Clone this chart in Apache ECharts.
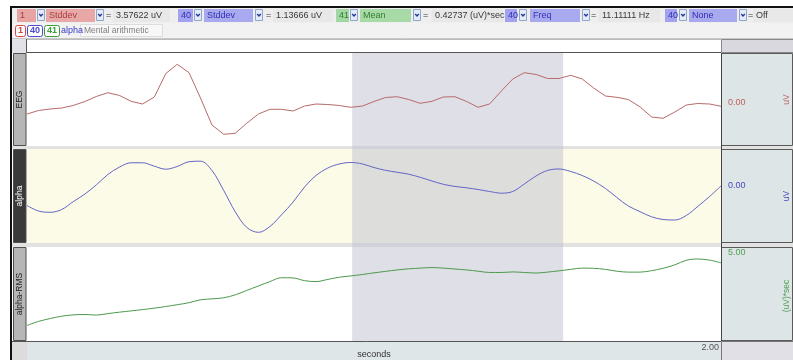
<!DOCTYPE html>
<html><head><meta charset="utf-8">
<script src="https://cdn.jsdelivr.net/npm/echarts@6/dist/echarts.min.js"></script>
<style>html,body{margin:0;padding:0;background:#fff;overflow:hidden}#c{width:793px;height:360px}</style>
</head><body><div id="c"></div>
<script>
// ---- data ----
const time = [0,0.033,0.067,0.1,0.133,0.167,0.2,0.233,0.267,0.3,0.333,0.367,0.4,0.433,0.467,0.5,0.533,0.567,0.6,0.633,0.667,0.7,0.733,0.767,0.8,0.833,0.867,0.9,0.933,0.967,1.0,1.033,1.067,1.1,1.133,1.167,1.2,1.233,1.267,1.3,1.333,1.367,1.4,1.433,1.467,1.5,1.533,1.567,1.6,1.633,1.667,1.7,1.733,1.767,1.8,1.833,1.867,1.9,1.933,1.967,2.0];
const eeg = [-3.12,-2.37,-2.04,-1.83,-1.29,-0.43,0.65,1.46,0.86,-0.39,-0.97,0.54,5.59,7.57,5.76,0.32,-5.48,-7.48,-7.27,-5.12,-3.12,-2.11,-2.11,-2.47,-1.40,-0.97,-1.08,-1.29,-1.68,-1.40,-0.43,0.43,0.60,0.00,-0.82,-0.39,0.54,0.60,-0.43,-1.68,-0.97,1.83,4.41,5.76,5.38,4.52,4.52,5.20,4.41,2.47,0.75,0.47,0.00,-1.61,-3.76,-4.04,-2.69,-1.18,-0.86,-0.97,-1.46];
const alpha = [-2.02,-3.19,-3.47,-2.87,-1.21,0.43,2.38,4.58,6.17,7.07,7.07,6.34,5.70,6.28,7.30,7.41,5.43,1.17,-3.34,-6.66,-7.73,-6.49,-4.04,-1.28,1.92,4.36,5.96,6.81,7.13,6.81,6.06,5.47,5.04,4.64,3.98,3.19,2.49,2.04,1.74,1.38,0.96,0.60,0.96,2.55,4.26,5.43,5.75,5.21,4.36,3.19,1.60,-0.32,-2.13,-3.34,-4.43,-5.00,-5.11,-4.15,-2.23,-0.11,2.13];
const alphaRms = [0.69,0.91,1.07,1.20,1.27,1.29,1.26,1.34,1.42,1.49,1.56,1.64,1.73,1.83,1.94,2.10,2.15,2.21,2.37,2.61,2.86,3.10,3.31,3.30,3.15,3.10,3.22,3.34,3.41,3.49,3.58,3.66,3.74,3.80,3.84,3.87,3.84,3.79,3.74,3.67,3.60,3.60,3.63,3.60,3.57,3.62,3.69,3.77,3.84,3.83,3.77,3.67,3.62,3.62,3.70,3.83,4.02,4.27,4.34,4.28,4.13];
const selection = [0.937, 1.545];
const channels = ['EEG', 'alpha', 'alpha-RMS'];
const units = ['uV', 'uV', '(uV)*sec'];
const scaleLabels = ['0.00', '0.00', '5.00'];
const yRanges = [[-10, 10], [-10, 10], [0, 5]];
const xRange = [0, 2];
const xEndLabel = '2.00';
const xName = 'seconds';

// ---- layout / style ----
const PX = 27, PW = 694;
const tops = [53, 149, 247], hts = [93, 94, 94];
const lineColors = ['#b86a6a', '#6464c8', '#4c9a4c'];
const labelColors = ['#c06060', '#4848c0', '#50a050'];
const panelBg = ['#ffffff', '#fbfbe7', '#ffffff'];
const stripBg = ['#b6b6b6', '#3a3a3a', '#b6b6b6'];
const stripFg = ['#222', '#fff', '#222'];
const FONT = '"Liberation Sans", Arial, sans-serif';

const G = [];
function rect(x, y, w, h, fill, stroke, z) {
  G.push({type: 'rect', z: z || 0, silent: true, shape: {x, y, width: w, height: h},
    style: {fill: fill || 'none', stroke: stroke || null, lineWidth: 1}});
}
function txt(x, y, s, color, size, opt) {
  opt = opt || {};
  G.push({type: 'text', z: opt.z || 3, silent: true, x, y, rotation: opt.rot || 0,
    style: {text: s, x: 0, y: 0, fill: color, font: (opt.bold ? 'bold ' : '') + size + 'px ' + FONT,
      align: opt.align || 'left', verticalAlign: 'middle', textAlign: opt.align || 'left', textVerticalAlign: 'middle'}});
}
function dd(x, y) {
  rect(x + 0.5, y + 0.5, 7, 11, '#e4eaf8', '#8fa6c8', 1);
  G.push({type: 'polyline', z: 2, silent: true, shape: {points: [[x + 2.2, y + 5], [x + 4, y + 7], [x + 5.8, y + 5]]},
    style: {stroke: '#23399a', lineWidth: 1.4, fill: null}});
}

// outer frame + toolbars
rect(12, 8, 781, 15, '#eeeeee');
rect(12, 23, 781, 15, '#f2f2f2');
G.push({type: 'line', z: 1, silent: true, shape: {x1: 12, y1: 38.5, x2: 793, y2: 38.5}, style: {stroke: '#c8c8c8'}});
rect(10, 6, 783, 2, '#111');
rect(10, 6, 2, 354, '#111');

// toolbar row 1 widgets: [x, w, fill, text, color]
const RY = 9;
const boxes1 = [
  [17, 19, '#e8a3a3', '1', '#a03c3c'], [46, 49, '#e8a8a8', 'Stddev', '#a84040'],
  [113, 57, '#e8e8e8', '3.57622 uV', '#3a3a3a'],
  [178, 15, '#a2a2f0', '40', '#3030b0'], [204, 49, '#a9a9f0', 'Stddev', '#3030b0'],
  [273, 60, '#e8e8e8', '1.13666 uV', '#3a3a3a'],
  [336, 13, '#a2d6a2', '41', '#2f7f2f'], [360, 51, '#a8daa8', 'Mean', '#2f7f2f'],
  [432, 71, '#e8e8e8', '0.42737 (uV)*sec', '#3a3a3a'],
  [505, 12, '#a2a2f0', '40', '#3030b0'], [530, 50, '#a9a9f0', 'Freq', '#3030b0'],
  [599, 61, '#e8e8e8', '11.11111 Hz', '#3a3a3a'],
  [665, 12, '#a2a2f0', '40', '#3030b0'], [689, 48, '#a9a9f0', 'None', '#3030b0'],
  [753, 40, '#e8e8e8', 'Off', '#3a3a3a']
];
boxes1.forEach(b => { rect(b[0], RY, b[1], 13, b[2], null, 1); txt(b[0] + 3, RY + 6.5, b[3], b[4], 9); });
[37, 96, 194, 255, 350, 413, 519, 582, 679, 739].forEach(x => dd(x, RY));
[106, 266, 423, 591, 748].forEach(x => txt(x, RY + 6.5, '=', '#333', 9));

// toolbar row 2
[[15, 10, '#d04848', '1'], [27, 15, '#4848d0', '40'], [44, 15, '#3c9c3c', '41']].forEach(b => {
  G.push({type: 'rect', z: 1, silent: true, shape: {x: b[0] + 0.5, y: 25.5, width: b[1], height: 11, r: 2},
    style: {fill: '#fff', stroke: b[2], lineWidth: 1}});
  txt(b[0] + 0.5 + b[1] / 2, 31, b[3], b[2], 9, {bold: true, align: 'center'});
});
txt(61, 31, 'alpha', '#3a3ac8', 9);
rect(80.5, 24.5, 82, 12, '#f7f7f7', '#dddddd', 1);
txt(84, 31, 'Mental arithmetic', '#808080', 8.5);

// header strip above panels
rect(12, 39, 15, 14, '#e2e2e8');
rect(27, 39, 694, 14, '#ffffff');
G.push({type: 'line', z: 2, silent: true, shape: {x1: 27, y1: 52.5, x2: 721, y2: 52.5}, style: {stroke: '#555'}});
G.push({type: 'line', z: 2, silent: true, shape: {x1: 27, y1: 39.5, x2: 721, y2: 39.5}, style: {stroke: '#bbb'}});
rect(721.5, 39.5, 72, 13, '#d8d8de', '#888', 1);
G.push({type: 'line', z: 2, silent: true, shape: {x1: 26.5, y1: 39, x2: 26.5, y2: 53}, style: {stroke: '#555'}});

// gaps between panels
rect(12, 146, 781, 3, '#e2e2e2');
rect(12, 243, 781, 4, '#e2e2e2');

// per-panel chrome
for (let i = 0; i < 3; i++) {
  const t = tops[i], h = hts[i];
  rect(13.5, t + 0.5, 12.5, h - 1, stripBg[i], '#505050', 1);
  txt(20, t + h / 2, channels[i], stripFg[i], 8.5, {rot: Math.PI / 2, align: 'center'});
  rect(721.5, t + 0.5, 71, h - 1, '#dde5e7', '#5a5a5a', 1);
  txt(728, i === 2 ? t + 6 : t + h / 2 + (i === 0 ? 3 : -10), scaleLabels[i], labelColors[i], 9);
  txt(787, t + h / 2 + (i === 2 ? 2 : 0), units[i], labelColors[i], 8.5, {rot: Math.PI / 2, align: 'center'});
}
G.push({type: 'line', z: 4, silent: true, shape: {x1: 721.5, y1: 53, x2: 721.5, y2: 341}, style: {stroke: '#444'}});

// bottom axis bar
rect(12, 341, 15, 19, '#dcdcdc');
rect(27, 341, 694, 19, '#dfe6e8');
rect(721.5, 341.5, 72, 19, '#e0e0e6', '#777', 1);
G.push({type: 'line', z: 4, silent: true, shape: {x1: 12, y1: 341.5, x2: 721, y2: 341.5}, style: {stroke: '#555'}});
txt(719, 348, xEndLabel, '#555', 9, {align: 'right', z: 6});

// ---- chart ----
const grids = [], xAxes = [], yAxes = [], series = [];
const values = [eeg, alpha, alphaRms];
for (let i = 0; i < 3; i++) {
  grids.push({left: PX, top: tops[i], width: PW, height: hts[i], show: true, backgroundColor: panelBg[i], borderWidth: 0, z: 0});
  xAxes.push({gridIndex: i, type: 'value', min: xRange[0], max: xRange[1], interval: 1, show: i === 2, z: 5,
    axisLine: {show: false}, axisTick: {show: false}, splitLine: {show: false},
    axisLabel: {show: false},
    name: i === 2 ? xName : '', nameLocation: 'middle', nameGap: 12,
    nameTextStyle: {fontSize: 9, fontFamily: FONT, color: '#333', verticalAlign: 'top'}});
  yAxes.push({gridIndex: i, type: 'value', min: yRanges[i][0], max: yRanges[i][1], show: false});
  series.push({type: 'line', xAxisIndex: i, yAxisIndex: i, z: 3, silent: true, animation: false,
    symbol: 'none', smooth: i === 0 ? false : 0.35,
    lineStyle: {color: lineColors[i], width: 1},
    data: time.map((t, k) => [t, values[i][k]])});
}
// selection overlay spanning all panels
grids.push({left: PX, top: tops[0], width: PW, height: tops[2] + hts[2] - tops[0], show: false});
xAxes.push({gridIndex: 3, type: 'value', min: xRange[0], max: xRange[1], show: false});
yAxes.push({gridIndex: 3, type: 'value', min: 0, max: 1, show: false});
series.push({type: 'line', xAxisIndex: 3, yAxisIndex: 3, z: 1, silent: true, animation: false, data: [],
  markArea: {silent: true, itemStyle: {color: 'rgba(194,194,210,0.52)'},
    data: [[{xAxis: selection[0]}, {xAxis: selection[1]}]]}});

const chart = echarts.init(document.getElementById('c'), null, {renderer: 'canvas'});
chart.setOption({
  animation: false,
  backgroundColor: '#ffffff',
  grid: grids, xAxis: xAxes, yAxis: yAxes, series: series,
  graphic: {elements: G}
});
</script>
</body></html>
